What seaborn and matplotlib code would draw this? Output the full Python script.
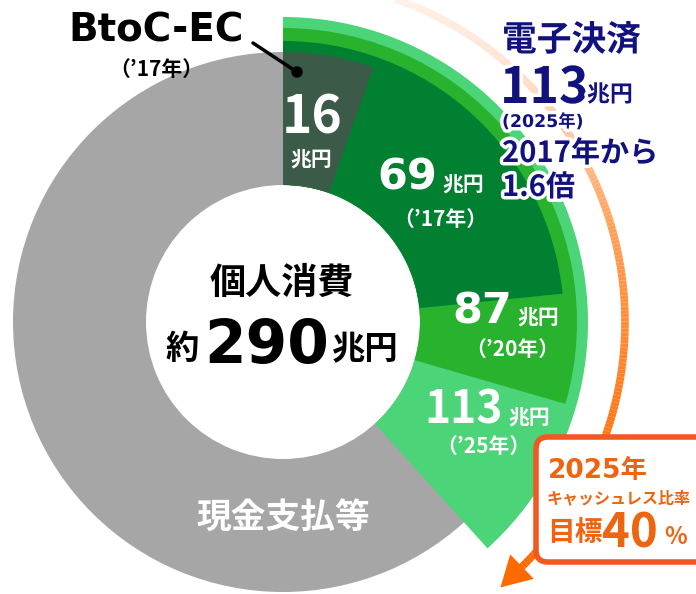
import numpy as np
import matplotlib.pyplot as plt
import matplotlib.patheffects as pe
from matplotlib.patches import FancyBboxPatch, Polygon, Circle
from matplotlib.collections import LineCollection
import seaborn as sns

sns.set_theme(style='white')
plt.rcParams['font.family'] = ['Noto Sans CJK JP', 'DejaVu Sans']
WIDE = ['DejaVu Sans', 'Noto Sans CJK JP']   # wide digits

# data
total_consumption = 290          # 個人消費 (兆円)
btoc_ec_2017 = 16                # BtoC-EC ('17年)
cashless_years = ['’17年', '’20年', '’25年']
cashless_values = [69, 87, 113]  # 電子決済 (兆円)
target_year = 2025
target_ratio = 40
growth = 1.6

ring_scale = 295  # value spanning a full turn of the ring in the drawing

# layout (pixels)
W, H = 696, 594
cx, cy = 283, 322
r_in = 137
r_gray = 270
r_green = [281, 294, 305]
green_cols = ['#008030', '#28b22d', '#4cd478']
gray = '#a6a6a6'
ec_col = '#3b5a48'
navy = '#12127f'
orange = '#ee6410'

fig = plt.figure(figsize=(W / 100, H / 100), dpi=100)
ax = fig.add_axes([0, 0, 1, 1])


def ring(value, r, color, z):
    wedges, _ = ax.pie([value, ring_scale - value], radius=r, center=(cx, cy),
                       startangle=-90, counterclock=True,
                       colors=[color, 'none'],
                       wedgeprops=dict(width=r - r_in, linewidth=0))
    for w in wedges:
        w.set_zorder(z)


# gray base ring
ring(ring_scale, r_gray, gray, 1)
# cashless wedges, largest first
for i in [2, 1, 0]:
    ring(cashless_values[i], r_green[i], green_cols[i], 2 + (2 - i))
ring(btoc_ec_2017, r_gray, ec_col, 6)

ax.set_xlim(0, W)
ax.set_ylim(H, 0)
ax.set_aspect('equal')
ax.axis('off')

# orange arc arrow
a = np.radians(np.linspace(12, 136, 200))
r_arc = 342
xs = cx + r_arc * np.sin(a)
ys = cy - r_arc * np.cos(a)
pts = np.column_stack([xs, ys]).reshape(-1, 1, 2)
segs = np.concatenate([pts[:-1], pts[1:]], axis=1)
cols = sns.blend_palette(['#fff6f0', '#fde3d2', '#ffa05a', '#ff7a1a', '#ff6a00'], n_colors=len(segs))
ax.add_collection(LineCollection(segs, colors=cols, linewidths=5.5, zorder=7, capstyle='butt'))
ae = np.radians(136)
base = np.array([cx + r_arc * np.sin(ae), cy - r_arc * np.cos(ae)])
d = np.array([np.cos(ae), np.sin(ae)])
nrm = np.array([np.sin(ae), -np.cos(ae)])
head = Polygon([base + 28 * d, base + 17 * nrm - 2 * d, base - 17 * nrm - 2 * d],
               closed=True, color='#ff6a00', lw=0, zorder=8)
ax.add_patch(head)

bold = dict(fontweight='bold')

# BtoC-EC callout
ax.text(156, 42, 'BtoC-EC', fontsize=28, family=WIDE, color='black', ha='center', va='baseline', **bold)
ax.text(156, 69, '（’17年）', fontsize=15, color='black', ha='center', va='center', **bold)
ax.plot([253, 297], [43, 72], color='black', lw=2.5, zorder=9)
ax.add_patch(Circle((297, 72), 5, color='black', zorder=9))

# labels on wedges
ax.text(312, 133, f'{btoc_ec_2017}', fontsize=37, color='white', ha='center', va='baseline', zorder=10, **bold)
ax.text(311, 160, '兆円', fontsize=15, color='white', ha='center', va='center', zorder=10, **bold)

num_pos = [(437, 190, WIDE, 31), (512, 323, WIDE, 31), (503, 423, None, 32)]
yr_pos = [(440, 219), (512, 349), (483, 446)]
for v, yr, (nx, ny, fam, fs), (yx, yy) in zip(cashless_values, cashless_years, num_pos, yr_pos):
    ax.text(nx, ny, f'{v}', fontsize=fs, family=fam, color='white', ha='right', va='baseline',
            zorder=10, **bold)
    ax.text(nx + 5, ny - 5, '兆円', fontsize=15, color='white', ha='left', va='center', zorder=10, **bold)
    ax.text(yx, yy, f'（{yr}）', fontsize=15, color='white', ha='center', va='center', zorder=10, **bold)

# center
ax.text(282, 283, '個人消費', fontsize=26, color='black', ha='center', va='center', zorder=10, **bold)
ax.text(199, 350, '約', fontsize=24, color='black', ha='right', va='center', zorder=10, **bold)
ax.text(267, 363, f'{total_consumption}', fontsize=43, family=WIDE, color='black', ha='center',
        va='baseline', zorder=10, **bold)
ax.text(331, 350, '兆円', fontsize=24, color='black', ha='left', va='center', zorder=10, **bold)
ax.text(283, 518, '現金支払等', fontsize=25, color='white', ha='center', va='center', zorder=10, **bold)

# e-payment annotation
outline = [pe.withStroke(linewidth=5, foreground='white')]
ax.text(502, 40, '電子決済', fontsize=25, color=navy, ha='left', va='center', zorder=11,
        path_effects=outline, **bold)
ax.text(500, 103, f'{cashless_values[-1]}', fontsize=36, color=navy, ha='left', va='baseline', zorder=11,
        path_effects=outline, **bold)
ax.text(587, 95, '兆円', fontsize=16.5, color=navy, ha='left', va='center', zorder=11,
        path_effects=outline, **bold)
ax.text(502, 122, f'({target_year}年)', fontsize=12.5, family=WIDE, color=navy, ha='left', va='center',
        zorder=11, path_effects=outline, **bold)
ax.text(502, 153, '2017年から', fontsize=21, color=navy, ha='left', va='center', zorder=11,
        path_effects=outline, **bold)
ax.text(502, 187, f'{growth}倍', fontsize=21, color=navy, ha='left', va='center', zorder=11,
        path_effects=outline, **bold)

# target box
box = FancyBboxPatch((536, 437), 200, 125, boxstyle='round,pad=0,rounding_size=12',
                     ec='#f05a22', fc='white', lw=4, zorder=12)
ax.add_patch(box)
ax.text(548, 478, f'{target_year}年', fontsize=19, family=WIDE, color=orange, ha='left', va='baseline',
        zorder=13, **bold)
ax.text(547, 498, 'キャッシュレス比率', fontsize=11.5, color=orange, ha='left', va='center', zorder=13, **bold)
ax.text(547, 533, '目標', fontsize=20, color=orange, ha='left', va='center', zorder=13, **bold)
ax.text(602, 548, f'{target_ratio}', fontsize=34, color=orange, ha='left', va='baseline', zorder=13, **bold)
ax.text(664, 537, '%', fontsize=17, color=orange, ha='left', va='center', zorder=13, **bold)

fig.savefig('out.png', dpi=100)
